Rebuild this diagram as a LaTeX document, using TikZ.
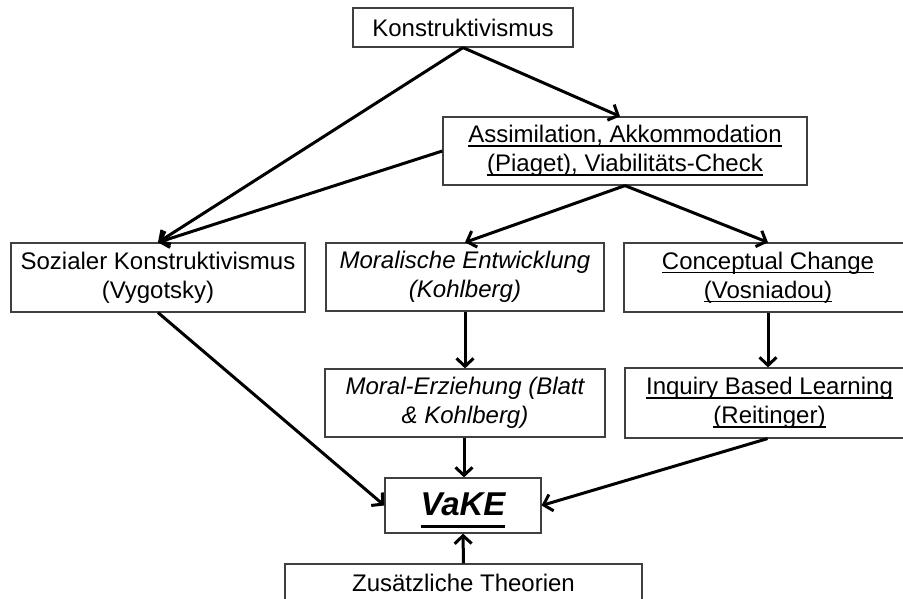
\documentclass[tikz,border=0pt]{standalone}
\usepackage{fontspec}
\setmainfont{Liberation Sans}
\usetikzlibrary{arrows.meta}
\newcommand{\ulx}[3]{\setbox0\hbox{#3}\rlap{\vrule width\wd0 height\dimexpr-#1+#2\relax depth #1}\box0}
\newcommand{\uln}[1]{\ulx{4pt}{1.6pt}{#1}}
\begin{document}
\begin{tikzpicture}[x=1pt,y=-1pt,
  box/.style={draw=black!75, line width=1.2pt, rectangle, inner sep=0pt, align=center,
    font=\fontsize{24}{29}\selectfont},
  arr/.style={line width=3pt, -{Straight Barb[length=8pt,width=17pt]}},
]
\useasboundingbox (0,0) rectangle (903,599);
\clip (0,0) rectangle (903,599);
\node[box, minimum width=220pt, minimum height=39pt] (K) at (463,27.5) {Konstruktivismus};
\node[box, minimum width=364pt, minimum height=68pt] (A) at (625,151)
  {\uln{Assimilation, Akkommodation}\\\uln{(Piaget), Viabilitäts-Check}};
\node[box, minimum width=294pt, minimum height=69pt] (S) at (158,277.5)
  {Sozialer Konstruktivismus\\(Vygotsky)};
\node[box, minimum width=278pt, minimum height=68pt] (M) at (465,277)
  {\itshape Moralische Entwicklung\\\itshape (Kohlberg)};
\node[box, minimum width=288pt, minimum height=69pt] (C) at (768,277.5)
  {\uln{Conceptual Change}\\\uln{(Vosniadou)}};
\node[box, minimum width=280pt, minimum height=68pt] (ME) at (465,403)
  {\itshape Moral-Erziehung (Blatt\\\itshape \& Kohlberg)};
\node[box, minimum width=289pt, minimum height=70pt] (I) at (769.5,403)
  {\uln{Inquiry Based Learning}\\\uln{(Reitinger)}};
\node[box, minimum width=156pt, minimum height=55pt] (V) at (463,505.5) {};
\node[anchor=base, inner sep=0pt, font=\fontsize{33}{40}\selectfont\bfseries\itshape] (Vt) at (463,515)
  {\ulx{13pt}{3.5pt}{VaKE}};
\node[box, minimum width=357pt, minimum height=38pt] (Z) at (463.5,583) {Zusätzliche Theorien};

\draw[arr] (K.south) -- ([xshift=-5pt]A.north);
\draw[arr] (K.south) -- (S.north);
\draw[arr] (A.west) -- (S.north);
\draw[arr] (A.south) -- (M.north);
\draw[arr] (A.south) -- (C.north);
\draw[arr] (M.south) -- (ME.north);
\draw[arr] (C.south) -- (C.south |- I.north);
\draw[arr] ([xshift=-1pt]ME.south) -- ([xshift=-1pt]ME.south |- V.north);
\draw[arr] (S.south) -- (V.west);
\draw[arr] ([xshift=-2pt]I.south) -- (V.east);
\draw[arr] (Z.north) -- (V.south);
\end{tikzpicture}
\end{document}
